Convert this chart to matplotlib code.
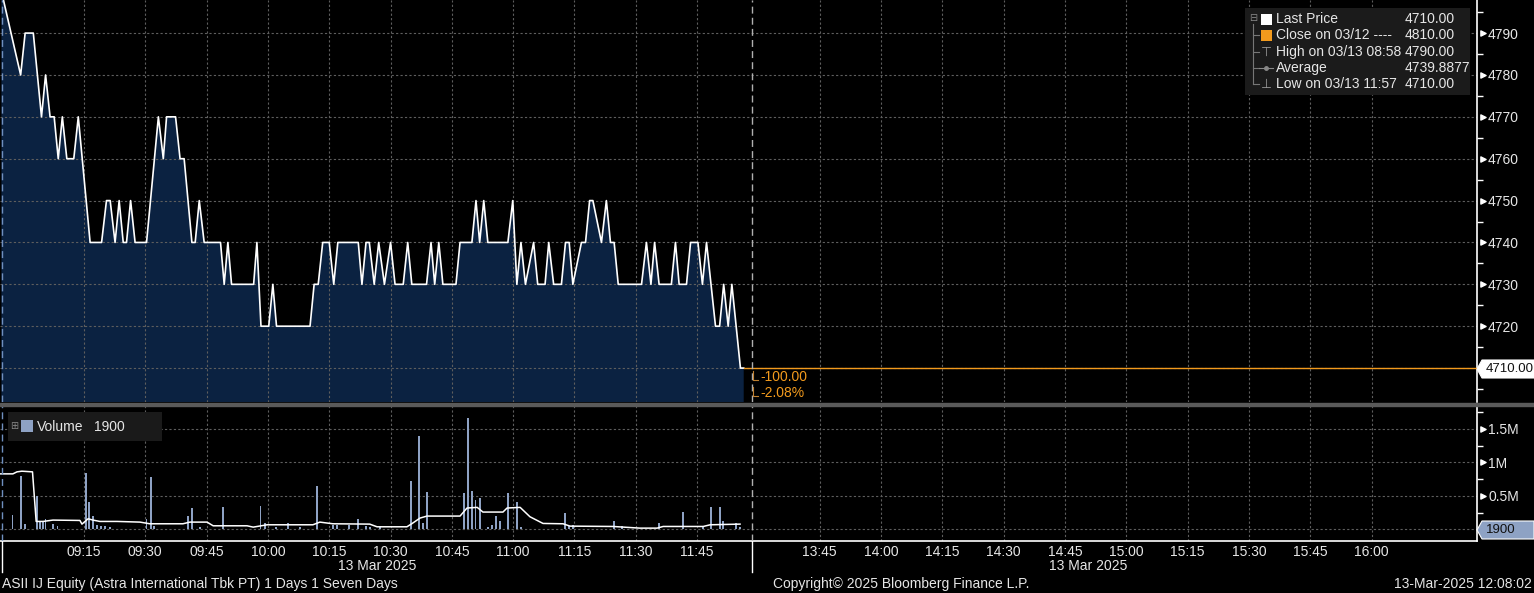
import matplotlib
matplotlib.use("Agg")
from matplotlib import pyplot as plt
from matplotlib.patches import Rectangle, Polygon
from matplotlib.lines import Line2D
import numpy as np

plt.rcParams['font.family'] = ['Liberation Sans', 'DejaVu Sans']

# price vertices: minutes after 09:00 (lunch break 12:00-13:30 squeezed out)
price_t = [-5.2, -0.5, 0.6, 2.6, 4.6, 5.6, 6.7, 7.7, 8.7, 9.7, 10.8, 12.5, 13.6, 16.5,
           19.3, 20.5, 21.4, 22.6, 23.6, 24.6, 25.4, 26.4, 27.5, 30.3, 33.2, 34.4, 35.2,
           37.4, 38.5, 39.5, 41.4, 42.2, 43.2, 44.4, 48.4, 49.3, 50.2, 51.1, 56.5, 57.3,
           58.3, 60.2, 61.2, 62.1, 70.3, 71.3, 72.3, 73.4, 75.0, 76.1, 77.1, 82.1, 83.0,
           84.0, 84.8, 86.0, 87.1, 88.5, 90.0, 91.1, 93.1, 94.2, 95.2, 98.8, 99.9, 100.8,
           101.8, 102.8, 106.0, 107.0, 109.9, 110.9, 111.8, 112.8, 113.8, 118.7, 119.9,
           120.9, 121.9, 123.0, 125.0, 126.0, 127.8, 128.7, 129.9, 131.8, 132.8, 133.7,
           134.6, 136.7, 137.7, 138.7, 139.5, 141.6, 142.8, 143.8, 144.7, 145.7, 151.4,
           152.6, 153.7, 154.6, 155.7, 158.7, 159.7, 160.6, 162.4, 163.4, 165.2, 166.3,
           167.3, 169.5, 170.5, 171.5, 172.6, 173.5, 175.6, 176.4]
price_v = [4800, 4780, 4790, 4790, 4770, 4780, 4770, 4770, 4760, 4770, 4760, 4760, 4770, 4740,
           4740, 4750, 4750, 4740, 4750, 4740, 4740, 4750, 4740, 4740, 4770, 4760, 4770,
           4770, 4760, 4760, 4740, 4740, 4750, 4740, 4740, 4730, 4740, 4730, 4730, 4740,
           4720, 4720, 4730, 4720, 4720, 4730, 4730, 4740, 4740, 4730, 4740, 4740, 4730,
           4740, 4740, 4730, 4740, 4730, 4740, 4730, 4730, 4740, 4730, 4730, 4740, 4730,
           4740, 4730, 4730, 4740, 4740, 4750, 4740, 4750, 4740, 4740, 4750,
           4730, 4740, 4730, 4740, 4730, 4730, 4740, 4730, 4730, 4740, 4740,
           4730, 4740, 4740, 4750, 4750, 4740, 4750, 4740, 4740, 4730, 4730,
           4740, 4730, 4740, 4730, 4730, 4740, 4730, 4730, 4740, 4740, 4730,
           4740, 4720, 4720, 4730, 4720, 4730, 4710, 4710]

vol_t = [-2.5, -0.4, 0.6, 3.6, 4.2, 4.9, 5.6, 7.5, 8.5, 15.5, 16.3, 17.3, 18.2, 19.2, 20.1,
         21.4, 30.3, 31.4, 32.1, 40.4, 41.4, 43.4, 49.1, 58.2, 59.3, 62.0, 64.9, 67.9, 72.1,
         76.0, 76.9, 79.8, 82.0, 84.0, 85.0, 87.4, 94.9, 97.0, 97.9, 98.9, 108.0, 108.9,
         109.9, 110.8, 111.8, 113.8, 114.8, 115.8, 116.8, 118.7, 120.9, 121.9, 132.7, 133.6,
         134.6, 144.7, 146.6, 155.6, 161.5, 166.4, 168.3, 170.5, 171.4, 174.5, 175.5]
vol_v = [0.22, 0.80, 0.08, 0.50, 0.12, 0.12, 0.16, 0.08, 0.05, 0.84, 0.41, 0.20, 0.06, 0.05, 0.05,
         0.04, 0.15, 0.78, 0.05, 0.20, 0.32, 0.03, 0.33, 0.35, 0.10, 0.04, 0.10, 0.03, 0.65,
         0.06, 0.06, 0.07, 0.15, 0.05, 0.04, 0.03, 0.72, 1.40, 0.10, 0.56, 0.54, 1.66,
         0.57, 0.44, 0.47, 0.03, 0.06, 0.20, 0.13, 0.55, 0.41, 0.03, 0.25, 0.05,
         0.07, 0.12, 0.05, 0.10, 0.26, 0.05, 0.33, 0.33, 0.12, 0.10, 0.03]

avg_t = [-5.6, -2.4, -1.4, -0.2, 2.4, 3.3, 5.0, 7.4, 14.0, 14.5, 16.0, 17.2, 18.9, 23.1, 28.7,
         31.1, 39.2, 40.9, 45.1, 46.6, 54.9, 56.4, 59.8, 71.0, 72.7, 75.9, 84.9, 86.7, 94.0,
         95.3, 97.2, 98.9, 107.0, 108.7, 111.2, 112.6, 117.5, 118.5, 121.7, 124.1, 127.3,
         132.2, 133.9, 144.4, 151.0, 155.2, 156.7, 166.5, 168.2, 175.5]
avg_v = [0.83, 0.83, 0.86, 0.87, 0.86, 0.12, 0.12, 0.14, 0.135, 0.08, 0.16, 0.14, 0.12, 0.12, 0.11,
         0.085, 0.085, 0.11, 0.11, 0.055, 0.055, 0.035, 0.07, 0.07, 0.11, 0.085, 0.08, 0.04, 0.04,
         0.09, 0.17, 0.20, 0.20, 0.32, 0.33, 0.26, 0.26, 0.32, 0.33, 0.19, 0.09,
         0.085, 0.05, 0.045, 0.02, 0.02, 0.045, 0.045, 0.07, 0.08]

tick_labels = ['09:15', '09:30', '09:45', '10:00', '10:15', '10:30', '10:45', '11:00', '11:15',
               '11:30', '11:45', '13:45', '14:00', '14:15', '14:30', '14:45', '15:00', '15:15',
               '15:30', '15:45', '16:00']
price_ticks = [4720, 4730, 4740, 4750, 4760, 4770, 4780, 4790]
vol_ticks = [0.5, 1.0, 1.5]
vol_tick_labels = ['0.5M', '1M', '1.5M']

last_price = 4710
W, H = 1534, 593
BG = '#000000'
FILL = '#0b2241'
GRID = '#5e5e5e'
ORANGE = '#f29a1d'
VOLC = '#8ea2c4'
TXT = '#e6e6e6'
FS = 10


def to_minutes(s):
    h, m = s.split(':')
    m = int(h) * 60 + int(m) - 540
    return m - 90 if m >= 270 else m


tick_pos = [to_minutes(s) for s in tick_labels]


def fx(x):
    return x / W


def fy(y):
    return 1 - y / H


fig = plt.figure(figsize=(W / 100, H / 100), dpi=100, facecolor=BG)
ax = fig.add_axes([0, fy(402), fx(1477), 402 / H], facecolor=BG)
axv = fig.add_axes([0, fy(541), fx(1477), 135 / H], facecolor=BG, sharex=ax)

xlim = (-5.55, 355.8)
ax.set_xlim(*xlim)
ax.set_ylim(4701.9, 4797.9)
axv.set_ylim(-0.172, 1.843)

# price panel
ax.fill_between(price_t, price_v, 4600, color=FILL, lw=0, zorder=1)
ax.plot(price_t, price_v, color='white', lw=1.2, zorder=4)
ax.plot([price_t[-1], xlim[1]], [last_price, last_price], color=ORANGE, lw=1, zorder=4)
for p in range(4710, 4800, 10):
    ax.axhline(p, color=GRID, lw=0.8, ls=(0, (2, 2)), zorder=2)

# volume panel
axv.bar(vol_t, vol_v, width=0.45, color=VOLC, zorder=3)
axv.plot(avg_t, avg_v, color='white', lw=1.1, zorder=4)
for v in [0, 0.5, 1.0, 1.5]:
    axv.axhline(v, color=GRID, lw=0.8, ls=(0, (2, 2)), zorder=2)

for a in (ax, axv):
    for t in tick_pos:
        a.axvline(t, color=GRID, lw=0.8, ls=(0, (2, 2)), zorder=2)
    a.axvline(178.5, color='#b0b0b0', lw=1, ls=(0, (5, 3)), zorder=5)
    a.axvline(-5.05, color='#6f8fbf', lw=1, ls=(0, (5, 3)), zorder=5)
    for s in ('left', 'top'):
        a.spines[s].set_visible(False)
    a.spines['right'].set_color('white')
    a.spines['right'].set_linewidth(1.2)
    a.yaxis.tick_right()
    a.tick_params(axis='y', colors=TXT, labelsize=FS, length=0, pad=8)
    a.tick_params(axis='y', which='minor', length=4, width=1, color='white')

ax.spines['bottom'].set_visible(False)
axv.spines['bottom'].set_color('white')
axv.spines['bottom'].set_linewidth(1.2)

ax.set_yticks(price_ticks)
ax.set_yticks(np.arange(4705, 4800, 10), minor=True)
ax.tick_params(axis='x', bottom=False, labelbottom=False)
axv.set_yticks(vol_ticks)
axv.set_yticklabels(vol_tick_labels)
axv.set_yticks([0.25, 0.75, 1.25, 1.75], minor=True)
axv.set_xticks(tick_pos)
axv.set_xticklabels(tick_labels)
axv.tick_params(axis='x', colors=TXT, labelsize=FS, length=0, pad=3)

# triangle tick markers on the right axis
ax.scatter([1.004] * len(price_ticks), price_ticks, marker='>', s=14, color='white',
           transform=ax.get_yaxis_transform(), clip_on=False, zorder=6)
axv.scatter([1.004] * len(vol_ticks), vol_ticks, marker='>', s=14, color='white',
            transform=axv.get_yaxis_transform(), clip_on=False, zorder=6)

# separator band between panels
fig.patches.append(Rectangle((0, fy(405.5)), 1, 3 / H, transform=fig.transFigure,
                             color='#5a5a5a', zorder=0))
# session divider stubs below the axis
for xp in (2, 752):
    fig.lines.append(Line2D([fx(xp), fx(xp)], [fy(541), fy(572)], transform=fig.transFigure,
                            color='white', lw=1))


# last price / volume tags on the right axis
def tag(yc, text, face, tcolor):
    pts = [(1477, yc), (1482, yc - 9), (1534, yc - 9), (1534, yc + 9), (1482, yc + 9)]
    fig.patches.append(Polygon([(fx(x), fy(y)) for x, y in pts], closed=True,
                               transform=fig.transFigure, facecolor=face, edgecolor='white',
                               lw=0.8, zorder=10))
    fig.text(fx(1486), fy(yc), text, color=tcolor, fontsize=9.5, va='center', ha='left',
             zorder=11)


tag(369, '4710.00', 'white', '#111111')
tag(530, '1900', VOLC, '#111111')

# change labels
fig.text(fx(760), fy(377), '-100.00', color=ORANGE, fontsize=FS, va='center')
fig.text(fx(760), fy(393), '-2.08%', color=ORANGE, fontsize=FS, va='center')
for yy in (377, 393):
    fig.lines.append(Line2D([fx(753), fx(753), fx(758)], [fy(yy - 6), fy(yy + 3), fy(yy + 3)],
                            transform=fig.transFigure, color='#c08030', lw=0.8))

# price legend box
fig.patches.append(Rectangle((fx(1245), fy(95)), fx(225), 87 / H, transform=fig.transFigure,
                             facecolor='#1b1b1b', edgecolor='none', zorder=8))
rows = [19, 35, 52, 68, 84]
names = ['Last Price', 'Close on 03/12 ----', 'High on 03/13 08:58', 'Average',
         'Low on 03/13 11:57']
values = ['4710.00', '4810.00', '4790.00', '4739.8877', '4710.00']
fig.lines.append(Line2D([fx(1253), fx(1253)], [fy(24), fy(84)], transform=fig.transFigure,
                        color='#777777', lw=0.8, zorder=9))
for yy in rows[1:]:
    fig.lines.append(Line2D([fx(1253), fx(1259)], [fy(yy), fy(yy)], transform=fig.transFigure,
                            color='#777777', lw=0.8, zorder=9))
fig.text(fx(1249), fy(18), '⊟', color='#888888', fontsize=7, va='center', family='DejaVu Sans',
         zorder=9)
fig.patches.append(Rectangle((fx(1261), fy(25)), fx(11), 11 / H, transform=fig.transFigure,
                             facecolor='white', zorder=9))
fig.patches.append(Rectangle((fx(1261), fy(41)), fx(11), 11 / H, transform=fig.transFigure,
                             facecolor=ORANGE, zorder=9))
fig.text(fx(1261), fy(52), '⊤', color='#999999', fontsize=9, va='center', family='DejaVu Sans',
         zorder=9)
fig.lines.append(Line2D([fx(1259), fx(1273)], [fy(68), fy(68)], transform=fig.transFigure,
                        color='#888888', lw=0.8, zorder=9))
fig.lines.append(Line2D([fx(1266)], [fy(68)], transform=fig.transFigure, color='#888888',
                        marker='o', ms=2.5, zorder=9))
fig.text(fx(1261), fy(84), '⊥', color='#999999', fontsize=9, va='center', family='DejaVu Sans',
         zorder=9)
for yy, n, v in zip(rows, names, values):
    fig.text(fx(1276), fy(yy), n, color=TXT, fontsize=FS, va='center', zorder=9)
    fig.text(fx(1405), fy(yy), v, color=TXT, fontsize=FS, va='center', zorder=9)

# volume legend box
fig.patches.append(Rectangle((fx(8), fy(441)), fx(154), 29 / H, transform=fig.transFigure,
                             facecolor='#1a1a1a', zorder=8))
fig.text(fx(10), fy(426), '⊞', color='#888888', fontsize=7, va='center', family='DejaVu Sans',
         zorder=9)
fig.patches.append(Rectangle((fx(21), fy(432)), fx(12), 12 / H, transform=fig.transFigure,
                             facecolor=VOLC, zorder=9))
fig.text(fx(37), fy(427), 'Volume', color=TXT, fontsize=FS, va='center', zorder=9)
fig.text(fx(94), fy(427), '1900', color=TXT, fontsize=FS, va='center', zorder=9)

# dates and footer
fig.text(fx(377), fy(566), '13 Mar 2025', color=TXT, fontsize=FS, ha='center', va='center')
fig.text(fx(1088), fy(566), '13 Mar 2025', color=TXT, fontsize=FS, ha='center', va='center')
fig.text(fx(2), fy(584), 'ASII IJ Equity (Astra International Tbk PT) 1 Days 1 Seven Days',
         color=TXT, fontsize=FS, va='center')
fig.text(fx(773), fy(584), 'Copyright© 2025 Bloomberg Finance L.P.', color=TXT, fontsize=FS,
         va='center')
fig.text(fx(1532), fy(584), '13-Mar-2025 12:08:02', color=TXT, fontsize=FS, ha='right',
         va='center')

fig.savefig('out.png', dpi=100, facecolor=BG)
